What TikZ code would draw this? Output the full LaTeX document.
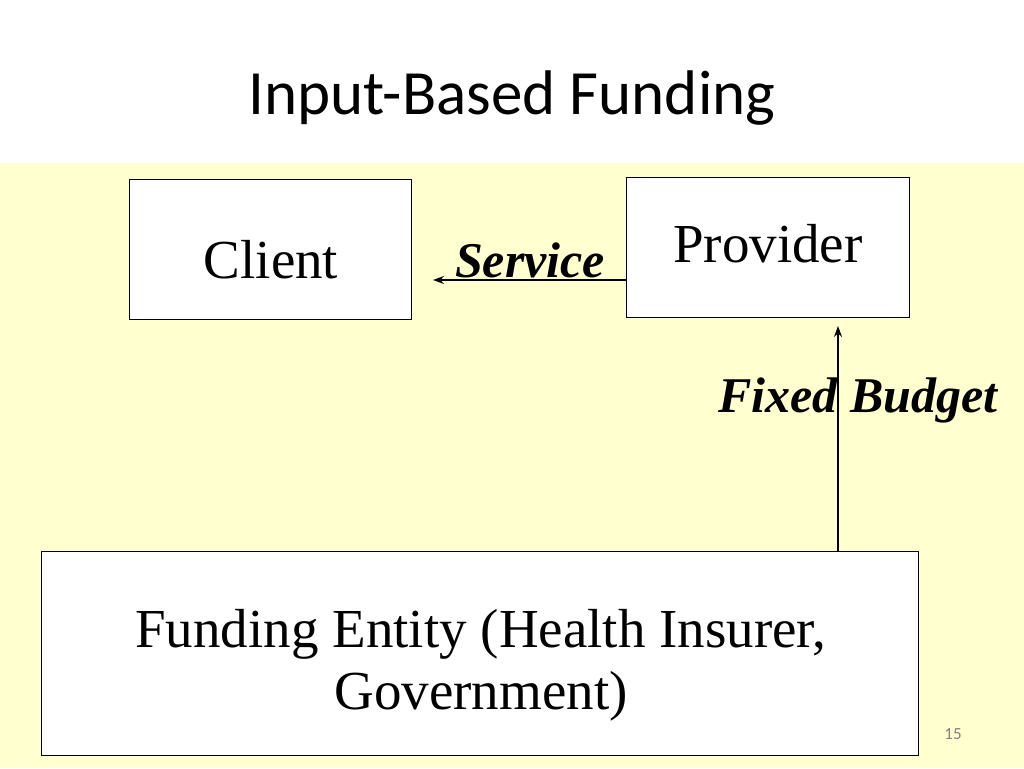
\documentclass[tikz,border=0pt]{standalone}
\usepackage{fontspec}
\usetikzlibrary{arrows.meta}
\setmainfont{Liberation Serif}
\newfontfamily\titlefont{Carlito}
\begin{document}
\begin{tikzpicture}[x=1pt,y=-1pt,
  box/.style={draw=black,fill=white,line width=1pt},
  lbl/.style={font=\fontsize{55}{62}\selectfont},
  ital/.style={font=\fontsize{50}{60}\selectfont\bfseries\itshape},
  arr/.style={-{Stealth[length=11pt,width=8pt]},line width=1.5pt}]
\useasboundingbox (0,0) rectangle (1024,768);
\fill[white] (0,0) rectangle (1024,163);
\fill[fill={rgb,255:red,255;green,255;blue,208}] (0,163) rectangle (1024,768);
\node[font=\titlefont\fontsize{63}{70}\selectfont] (title) at (512,98) {Input-Based Funding};
\draw[box] (129,179) rectangle (411,319);
\node[lbl] (client) at (271,260) {Client};
\draw[box] (626,177) rectangle (909,317);
\node[lbl] (provider) at (768,244) {Provider};
\draw[box] (41,551) rectangle (918,755);
\node[lbl,align=center] (fund) at (481,665) {Funding Entity (Health Insurer,\\Government)};
\coordinate (s1) at (626,280); \coordinate (s2) at (433,280);
\draw[arr] (s1) -- (s2);
\node[ital] (service) at (530,260) {Service};
\coordinate (b1) at (838,551); \coordinate (b2) at (838,326);
\draw[arr] (b1) -- (b2);
\node[ital] (budget) at (858,400) {Fixed Budget};
\node[font=\titlefont\fontsize{17}{18}\selectfont,text=gray] (pg) at (953,734) {15};
\end{tikzpicture}
\end{document}
